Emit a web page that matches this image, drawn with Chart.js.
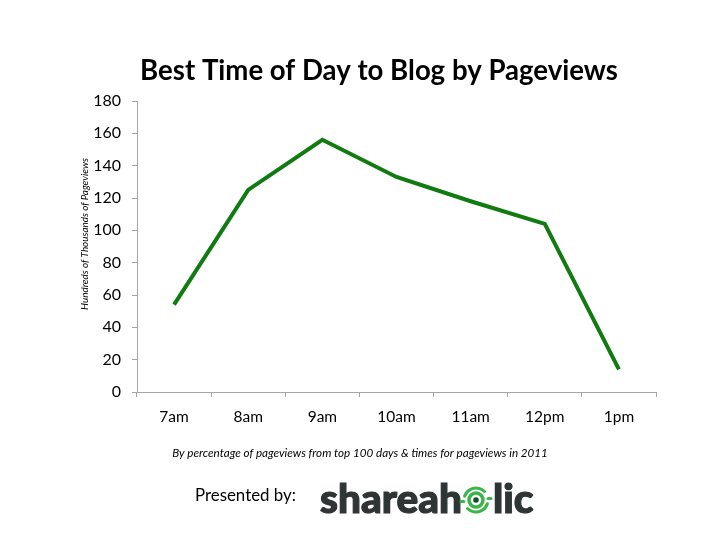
<!DOCTYPE html>
<html><head><meta charset="utf-8">
<script src="https://cdn.jsdelivr.net/npm/chart.js@4"></script>
<style>html,body{margin:0;padding:0;background:#fff;}#wrap{width:720px;height:540px;position:relative;}</style>
</head><body><div id="wrap"><canvas id="c" width="720" height="540"></canvas></div>
<script>
const categories = ['7am', '8am', '9am', '10am', '11am', '12pm', '1pm'];
const pageviews = [54, 125, 156, 133, 118, 104, 14];
const yMin = 0, yMax = 180, yStep = 20;
const titleText = 'Best Time of Day to Blog by Pageviews';
const yAxisLabel = 'Hundreds of Thousands of Pageviews';
const footnote = 'By percentage of pageviews from top 100 days & times for pageviews in 2011';
const presentedBy = 'Presented by:';
const logoLeft = 'shareah', logoRight = 'lic';

const FONT = 'Lato, "Open Sans", "Liberation Sans", sans-serif';

function fitFont(ctx, text, weight, style, targetW, base) {
  ctx.font = `${style} ${weight} ${base}px ${FONT}`;
  const w = ctx.measureText(text).width;
  const size = base * targetW / w;
  ctx.font = `${style} ${weight} ${size}px ${FONT}`;
  return size;
}

const decor = {
  id: 'decor',
  afterDraw(chart) {
    const ctx = chart.ctx;
    ctx.save();
    ctx.fillStyle = '#000';
    // title
    fitFont(ctx, titleText, 'bold', 'normal', 478, 26);
    ctx.textAlign = 'center'; ctx.textBaseline = 'alphabetic';
    ctx.fillText(titleText, 379, 80);
    // y axis label
    ctx.save();
    ctx.translate(85, 234);
    ctx.rotate(-Math.PI / 2);
    fitFont(ctx, yAxisLabel, 'normal', 'italic', 152, 10);
    ctx.textBaseline = 'middle';
    ctx.fillText(yAxisLabel, 0, 0);
    ctx.restore();
    // footnote
    fitFont(ctx, footnote, 'normal', 'italic', 376, 10);
    ctx.textAlign = 'center'; ctx.textBaseline = 'middle';
    ctx.fillText(footnote, 360, 453);
    // presented by
    fitFont(ctx, presentedBy, 'normal', 'normal', 101, 15);
    ctx.textAlign = 'left'; ctx.textBaseline = 'alphabetic';
    ctx.fillText(presentedBy, 195, 501);
    // logo
    ctx.fillStyle = '#2f3434';
    fitFont(ctx, logoLeft, 900, 'normal', 142, 46);
    ctx.fillText(logoLeft, 320, 513);
    ctx.strokeStyle = '#2f3434'; ctx.lineWidth = 1.2;
    ctx.strokeText(logoLeft, 320, 513);
    const wl = ctx.measureText(logoLeft).width;
    const cx = 320 + wl + 14, cy = 500;
    // symbol
    ctx.strokeStyle = '#3bb54a'; ctx.lineWidth = 3.5; ctx.lineCap = 'round';
    ctx.beginPath(); ctx.arc(cx, cy, 7, 0, Math.PI * 2); ctx.stroke();
    ctx.fillStyle = '#0f4d2a';
    ctx.beginPath(); ctx.arc(cx, cy, 2.8, 0, Math.PI * 2); ctx.fill();
    ctx.strokeStyle = '#3bb54a'; ctx.lineWidth = 3;
    ctx.beginPath(); ctx.arc(cx, cy, 12, Math.PI * 1.1, Math.PI * 1.75); ctx.stroke();
    ctx.beginPath(); ctx.moveTo(cx - 12 * 1.02, cy + 1.5); ctx.lineTo(cx - 15, cy + 1.5); ctx.stroke();
    ctx.beginPath(); ctx.arc(cx, cy, 12, Math.PI * 0.1, Math.PI * 0.75); ctx.stroke();
    ctx.beginPath(); ctx.moveTo(cx + 12, cy - 1.5); ctx.lineTo(cx + 15, cy - 1.5); ctx.stroke();
    ctx.fillStyle = '#2f3434';
    ctx.strokeStyle = '#2f3434'; ctx.lineWidth = 1.2;
    ctx.fillText(logoRight, cx + 17, 513);
    ctx.strokeText(logoRight, cx + 17, 513);
    ctx.restore();
  }
};

const axisGray = '#a6a6a6';
new Chart(document.getElementById('c'), {
  type: 'line',
  data: {
    labels: categories,
    datasets: [{
      data: pageviews,
      borderColor: '#117a11',
      borderWidth: 4,
      pointRadius: 0,
      tension: 0,
      fill: false
    }]
  },
  options: {
    responsive: false,
    animation: false,
    devicePixelRatio: 1,
    layout: { padding: { left: 60, right: 64, top: 101, bottom: 108 } },
    plugins: { legend: { display: false }, title: { display: false }, tooltip: { enabled: false } },
    scales: {
      x: {
        offset: true,
        afterFit(scale) { scale.height = 40; },
        grid: { offset: true, drawOnChartArea: false, drawTicks: true, tickLength: 5, color: axisGray },
        border: { display: true, color: axisGray, width: 1 },
        ticks: { color: '#000', padding: 11, font: { family: FONT, size: 15.5 } }
      },
      y: {
        min: yMin, max: yMax,
        afterFit(scale) { scale.width = 77; },
        grid: { drawOnChartArea: false, drawTicks: true, tickLength: 5, color: axisGray },
        border: { display: true, color: axisGray, width: 1 },
        ticks: { stepSize: yStep, color: '#000', padding: 11, font: { family: FONT, size: 16 } }
      }
    }
  },
  plugins: [decor]
});
</script>
</body></html>
